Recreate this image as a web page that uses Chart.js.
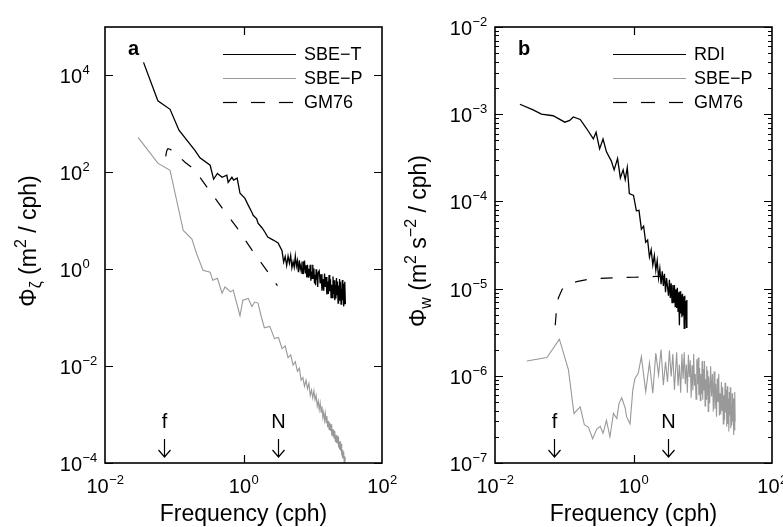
<!DOCTYPE html>
<html>
<head>
<meta charset="utf-8">
<script src="https://cdn.jsdelivr.net/npm/chart.js@4.4.1/dist/chart.umd.min.js"></script>
<style>
  html, body { margin: 0; padding: 0; background: #fff; }
  #wrap { position: relative; width: 783px; height: 527px; overflow: hidden; }
  canvas { position: absolute; top: 0; }
</style>
</head>
<body>
<div id="wrap">
  <canvas id="panelA" width="420" height="527" style="left:0"></canvas>
  <canvas id="panelB" width="392" height="527" style="left:391px"></canvas>
</div>
<script>
// ---- panel a: vertical displacement spectra (frequency in cph) ----
const freqT = [0.036, 0.058, 0.087, 0.117, 0.20, 0.235, 0.33, 0.37, 0.42, 0.49, 0.575, 0.60, 0.68,
  0.72, 0.81, 0.89, 1.05, 1.17, 1.32, 1.38, 1.55, 1.62, 1.86, 2.04, 2.24, 2.69, 3.16,
  3.6, 3.8, 4.0, 4.2, 4.4, 4.6, 4.8, 5.0, 5.2, 5.4, 5.6, 5.8, 6.0, 6.2, 6.4, 6.6, 6.8, 7.0, 7.2,
  7.4, 7.6, 7.8, 8.0, 8.2, 8.4, 8.6, 8.8, 9.0, 9.2, 9.4, 9.6, 9.8, 10.0, 10.2, 10.4, 10.6, 10.8,
  11.0, 11.2, 11.4, 11.6, 11.8, 12.0,
  12.4, 12.8, 13.2, 13.6, 14.0, 14.4, 14.8, 15.2, 15.6, 16.0, 16.4, 16.8, 17.2, 17.6, 18.0, 18.4,
  18.8, 19.2, 19.6, 20.0, 20.4, 20.8, 21.2, 21.6, 22.0, 22.4, 22.8, 23.2, 23.6, 24.0, 24.4, 24.8,
  25.2, 25.6, 26.0, 26.4, 26.8, 27.2, 27.6, 28.0, 28.4, 28.8, 29.2, 29.6];
const sbeT = [1.86e4, 3.0e3, 2.0e3, 740, 280, 200, 140, 72, 95, 79, 87, 62, 79, 69, 76, 37, 29, 21,
  15, 13, 11, 8.9, 7.1, 5.8, 4.6, 4.0, 3.5,
  2.40, 1.40, 1.82, 1.19, 1.86, 1.33, 1.91, 1.07, 1.43, 1.10, 1.86, 1.16, 1.50, 0.87, 1.53,
  0.99, 1.23, 0.82, 1.45, 1.01, 1.51, 0.82, 1.20, 0.68, 1.23, 0.69, 1.02, 0.73, 1.24, 0.58,
  0.90, 0.65, 1.23, 0.65, 1.03, 0.51, 0.77, 0.47, 1.00, 0.61, 0.84, 0.43, 0.86,
  0.93, 0.51, 0.79, 0.36, 0.63, 0.36, 0.81, 0.43, 0.69, 0.30, 0.56, 0.31, 0.76, 0.35, 0.62,
  0.26, 0.48, 0.26, 0.71, 0.31, 0.59, 0.23, 0.47, 0.25, 0.66, 0.30, 0.56, 0.20, 0.46, 0.23,
  0.63, 0.26, 0.55, 0.19, 0.39, 0.20, 0.60, 0.23, 0.50, 0.17, 0.40, 0.19, 0.55, 0.19];

const freqPa = [0.030, 0.058, 0.087, 0.135, 0.18, 0.21, 0.26, 0.33, 0.36, 0.42, 0.49, 0.54, 0.65,
  0.71, 0.89, 0.98, 1.17, 1.32, 1.45, 1.62, 1.8, 2.0, 2.4, 2.8, 3.2,
  3.6, 4.0, 4.4, 4.8, 5.2, 5.6, 6.0, 6.4, 6.8, 7.2, 7.6, 8.0, 8.4, 8.8, 9.2, 9.6,
  10.0, 10.4, 10.8, 11.2, 11.6, 12.0, 12.4, 12.8, 13.2, 13.6, 14.0, 14.4, 14.8, 15.2, 15.6, 16.0,
  16.4, 16.8, 17.2, 17.6, 18.0, 18.4, 18.8, 19.2, 19.6, 20.0, 20.4, 20.8, 21.2, 21.6, 22.0, 22.4,
  22.8, 23.2, 23.6, 24.0, 24.4, 24.8, 25.2, 25.6, 26.0, 26.4, 26.8, 27.2, 27.6, 28.0, 28.4, 28.8,
  29.2, 29.6];
const sbePa = [525, 155, 110, 6.3, 4.2, 2.1, 0.95, 0.87, 0.59, 0.65, 0.32, 0.43, 0.34, 0.37, 0.11,
  0.23, 0.25, 0.17, 0.21, 0.20,
  0.107, 0.062, 0.066, 0.037, 0.039, 0.023, 0.026, 0.015, 0.017, 0.0105,
  0.0123, 0.0078, 0.0091, 0.0051, 0.0058, 0.0038, 0.0051, 0.0034, 0.0044, 0.0025,
  0.0032, 0.0022, 0.0031, 0.0020, 0.0025, 0.0015, 0.0019, 0.00126, 0.00174, 0.00112,
  0.00148, 0.00087, 0.00112, 0.00076, 0.00105, 0.00068, 0.00093, 0.00055, 0.00074, 0.00049,
  0.00069, 0.00046, 0.00063, 0.00037, 0.00050, 0.00035, 0.00049, 0.00032, 0.00046, 0.00028,
  0.00038, 0.00026, 0.00037, 0.00025, 0.00035, 0.00021, 0.00028, 0.00019, 0.00028, 0.00018,
  0.00025, 0.000145, 0.00020, 0.000132, 0.000186, 0.000126, 0.00017, 0.000102, 0.000138, 0.000100,
  0.000129];

const freqGmA = [0.0752, 0.078, 0.081, 0.087, 0.10, 0.143, 0.188, 0.235, 0.295, 0.484, 0.794, 1.32, 2.16, 3.09];
const gm76A = [214, 280, 309, 300, 260, 162, 120, 79, 50, 19, 7.4, 2.5, 0.95, 0.46];

// ---- panel b: vertical velocity spectra ----
const freqRdi = [0.0229, 0.0355, 0.0468, 0.069, 0.102, 0.120, 0.135, 0.170, 0.209, 0.263, 0.288,
  0.324, 0.363, 0.407, 0.479, 0.525, 0.589, 0.646, 0.708, 0.759, 0.813, 0.871,
  1.0, 1.1, 1.2, 1.3, 1.4, 1.5, 1.6, 1.7, 1.8, 1.9, 2.0, 2.1, 2.2, 2.3, 2.4, 2.5, 2.6, 2.7, 2.8, 2.9, 3.0,
  3.2, 3.3, 3.4, 3.5, 3.6, 3.7, 3.8, 3.9, 4.0, 4.1, 4.2, 4.3, 4.4, 4.5, 4.6, 4.7, 4.8, 4.9, 5.0,
  5.1, 5.2, 5.3, 5.4, 5.5, 5.6, 5.7, 5.8, 5.9];
const rdi = [1.30e-3, 1.12e-3, 1.0e-3, 9.6e-4, 8.1e-4, 8.5e-4, 9.3e-4, 8.7e-4, 6.9e-4, 5.2e-4, 6.2e-4,
  4.0e-4, 5.2e-4, 3.7e-4, 2.9e-4, 2.3e-4, 3.1e-4, 1.86e-4, 2.3e-4, 1.78e-4, 2.45e-4, 1.23e-4,
  1.17e-4, 7.8e-5, 7.9e-5, 4.8e-5, 5.2e-5, 3.4e-5, 3.6e-5, 2.3e-5, 2.8e-5, 1.86e-5, 2.4e-5,
  1.62e-5, 2.1e-5, 1.32e-5, 1.70e-5, 1.12e-5, 1.58e-5, 1.07e-5, 1.48e-5, 9.1e-6, 1.32e-5,
  8.3e-6, 1.26e-5, 7.8e-6, 1.15e-5, 6.9e-6, 1.10e-5, 6.9e-6, 1.10e-5, 6.2e-6, 9.8e-6, 6.0e-6,
  1.02e-5, 5.5e-6, 9.1e-6, 3.8e-6, 9.3e-6, 5.2e-6, 8.5e-6, 4.7e-6, 8.7e-6, 5.0e-6, 8.1e-6,
  3.5e-6, 8.3e-6, 4.5e-6, 7.2e-6, 3.6e-6, 7.4e-6];

const freqPb = [0.0288, 0.0562, 0.0851, 0.115, 0.138, 0.170, 0.195, 0.224, 0.257, 0.295, 0.331,
  0.363, 0.407, 0.457, 0.513, 0.575, 0.617, 0.676, 0.759, 0.794, 0.891, 0.977, 1.05, 1.17,
  1.3, 1.5, 1.7, 1.9, 2.1, 2.3, 2.5, 2.7, 2.9, 3.1, 3.3, 3.5, 3.7, 3.9,
  4.2, 4.4, 4.6, 4.8, 5.0, 5.2, 5.4, 5.6, 5.8, 6.0, 6.2, 6.4, 6.6, 6.8, 7.0, 7.2, 7.4, 7.6, 7.8,
  8.0, 8.2, 8.4, 8.6, 8.8, 9.0, 9.2, 9.4, 9.6, 9.8, 10.0, 10.2, 10.4, 10.6, 10.8, 11.0, 11.2,
  11.4, 11.6, 11.8, 12.0, 12.2,
  12.6, 13.0, 13.4, 13.8, 14.2, 14.6, 15.0, 15.4, 15.8, 16.2, 16.6, 17.0, 17.4,
  17.8, 18.2, 18.6, 19.0, 19.4, 19.8, 20.2, 20.6, 21.0, 21.4, 21.8, 22.2, 22.6, 23.0, 23.4, 23.8,
  24.2, 24.6, 25.0, 25.4, 25.8, 26.2, 26.6, 27.0, 27.4, 27.8, 28.2, 28.6, 29.0, 29.4];
const sbePb = [1.48e-6, 1.62e-6, 2.63e-6, 1.17e-6, 3.7e-7, 4.4e-7, 2.75e-7, 2.57e-7, 1.9e-7, 2.45e-7,
  2.63e-7, 2.19e-7, 3.09e-7, 2.0e-7, 3.7e-7, 3.24e-7, 4.8e-7, 5.6e-7, 4.27e-7, 3.4e-7, 2.8e-7,
  6.9e-7, 9.3e-7, 1.07e-6,
  1.66e-6, 6.6e-7, 1.41e-6, 6.3e-7, 1.82e-6, 1.02e-6, 2.0e-6, 7.8e-7, 1.45e-6, 8.5e-7, 1.95e-6,
  9.8e-7, 1.78e-6, 6.9e-7,
  1.86e-6, 7.7e-7, 1.35e-6, 6.4e-7, 1.78e-6, 9.2e-7, 1.86e-6, 8.0e-7, 1.35e-6, 6.4e-7, 1.74e-6,
  9.7e-7, 1.51e-6, 5.6e-7, 1.32e-6, 6.8e-7, 1.78e-6, 7.7e-7, 1.05e-6, 5.4e-7, 1.55e-6, 8.0e-7,
  1.62e-6, 6.0e-7, 1.23e-6, 5.2e-7, 1.05e-6, 6.2e-7, 1.48e-6, 5.3e-7, 1.20e-6, 6.8e-7, 1.48e-6,
  4.5e-7, 9.1e-7, 5.4e-7, 1.29e-6, 6.1e-7, 1.15e-6, 3.9e-7, 9.8e-7,
  4.8e-7, 1.29e-6, 5.8e-7, 1.05e-6, 3.9e-7, 1.12e-6, 4.2e-7, 8.1e-7, 3.4e-7, 9.3e-7, 5.0e-7,
  1.05e-6, 3.5e-7, 6.3e-7, 3.6e-7, 8.5e-7, 4.0e-7, 7.4e-7, 2.8e-7, 6.0e-7, 3.1e-7, 8.3e-7,
  3.8e-7, 6.9e-7, 2.6e-7, 7.6e-7, 2.8e-7, 5.5e-7, 2.3e-7, 6.5e-7, 3.5e-7, 7.4e-7, 2.5e-7,
  4.6e-7, 2.7e-7, 6.3e-7, 3.0e-7, 5.5e-7, 2.1e-7, 4.6e-7, 2.4e-7, 6.5e-7, 3.0e-7];

const freqGmB = [0.0741, 0.0776, 0.0822, 0.0933, 0.108, 0.151, 0.234, 0.5, 1.0, 2.14, 3.16];
const gm76B = [3.8e-6, 6.0e-6, 7.8e-6, 9.8e-6, 1.10e-5, 1.20e-5, 1.29e-5, 1.33e-5, 1.35e-5, 1.38e-5, 1.38e-5];

// inertial and buoyancy frequencies marked with arrows
const fCph = 0.072;
const nCph = 3.15;

const xTickExp = [-2, 0, 2];
const yTickExpA = [-4, -2, 0, 2, 4];
const yTickExpB = [-7, -6, -5, -4, -3, -2];

const FONT = '"Liberation Sans", Arial, Helvetica, sans-serif';
const GRAY = '#999999';

function drawPow(ctx, exp, x, y, mode) {
  const e = exp < 0 ? '\u2212' + (-exp) : String(exp);
  ctx.font = '20px ' + FONT;
  const wb = ctx.measureText('10').width;
  ctx.font = '13px ' + FONT;
  const we = ctx.measureText(e).width;
  const x0 = mode === 'center' ? x - (wb + we) / 2 : x - wb;
  ctx.textAlign = 'left';
  ctx.textBaseline = 'alphabetic';
  ctx.font = '20px ' + FONT;
  ctx.fillText('10', x0, y);
  ctx.font = '13px ' + FONT;
  ctx.fillText(e, x0 + wb + 0.5, y - 9);
}

// segments: [text, fontSize, verticalShift]
function drawRich(ctx, segs, cx, y) {
  let total = 0;
  segs.forEach(s => { ctx.font = s[1] + 'px ' + FONT; total += ctx.measureText(s[0]).width; });
  let x = cx - total / 2;
  ctx.textAlign = 'left';
  ctx.textBaseline = 'alphabetic';
  segs.forEach(s => {
    ctx.font = s[1] + 'px ' + FONT;
    ctx.fillText(s[0], x, y + s[2]);
    x += ctx.measureText(s[0]).width;
  });
}

function framePlugin(p) {
  return {
    id: 'frame',
    afterDraw(chart) {
      const ctx = chart.ctx, a = chart.chartArea;
      const xs = chart.scales.x, ys = chart.scales.y;
      ctx.save();
      ctx.strokeStyle = '#000';
      ctx.fillStyle = '#000';

      // ticks
      ctx.lineWidth = 1.2;
      ctx.beginPath();
      p.yTicks.forEach(d => {
        const y = Math.round(ys.getPixelForValue(Math.pow(10, d))) + 0.5;
        ctx.moveTo(a.left, y); ctx.lineTo(a.left + 8, y);
        ctx.moveTo(a.right, y); ctx.lineTo(a.right - 8, y);
      });
      if (p.minor) {
        for (let d = p.yTicks[0]; d < p.yTicks[p.yTicks.length - 1]; d++) {
          for (let k = 2; k < 10; k++) {
            const y = Math.round(ys.getPixelForValue(k * Math.pow(10, d))) + 0.5;
            ctx.moveTo(a.left, y); ctx.lineTo(a.left + 4, y);
            ctx.moveTo(a.right, y); ctx.lineTo(a.right - 4, y);
          }
        }
      }
      const x0 = Math.round(xs.getPixelForValue(1)) + 0.5;
      ctx.moveTo(x0, a.bottom); ctx.lineTo(x0, a.bottom - 8);
      ctx.moveTo(x0, a.top); ctx.lineTo(x0, a.top + 8);
      ctx.stroke();

      // frame
      ctx.lineWidth = 1.6;
      ctx.strokeRect(a.left, a.top, a.right - a.left, a.bottom - a.top);

      // tick labels
      p.yTicks.forEach(d => drawPow(ctx, d, a.left - 23, ys.getPixelForValue(Math.pow(10, d)) + 8, 'right'));
      xTickExp.forEach(d => drawPow(ctx, d, xs.getPixelForValue(Math.pow(10, d)), a.bottom + 30, 'center'));

      // axis titles
      drawRich(ctx, [['Frequency (cph)', 23, 0]], (a.left + a.right) / 2, 521);
      ctx.save();
      ctx.translate(a.left - 69, 241);
      ctx.rotate(-Math.PI / 2);
      drawRich(ctx, p.yTitle, 0, 0);
      ctx.restore();

      // panel letter
      ctx.font = 'bold 20px ' + FONT;
      ctx.textAlign = 'left';
      ctx.fillText(p.letter, a.left + 23, 55);

      // legend
      p.legend.forEach((l, i) => {
        const y = 54 + i * 24;
        ctx.beginPath();
        ctx.strokeStyle = l[1];
        ctx.lineWidth = 1.2;
        ctx.setLineDash(l[2]);
        ctx.moveTo(a.left + 118, y + 0.5);
        ctx.lineTo(a.left + 191, y + 0.5);
        ctx.stroke();
        ctx.setLineDash([]);
        ctx.fillStyle = '#000';
        ctx.font = '18px ' + FONT;
        ctx.textBaseline = 'middle';
        ctx.fillText(l[0], a.left + 199, y + 1);
        ctx.textBaseline = 'alphabetic';
      });

      // f and N arrows
      ctx.strokeStyle = '#000';
      ctx.lineWidth = 1.2;
      [['f', fCph], ['N', nCph]].forEach(m => {
        const x = Math.round(xs.getPixelForValue(m[1])) + 0.5;
        ctx.font = '20px ' + FONT;
        ctx.textAlign = 'center';
        ctx.fillText(m[0], x, 428);
        ctx.beginPath();
        ctx.moveTo(x, 439); ctx.lineTo(x, 457);
        ctx.moveTo(x - 6, 450); ctx.lineTo(x, 457); ctx.lineTo(x + 6, 450);
        ctx.stroke();
      });
      ctx.restore();
    }
  };
}

function makeChart(id, p) {
  return new Chart(document.getElementById(id), {
    type: 'line',
    data: {
      datasets: p.series.map(s => ({
        data: s.x.map((f, i) => ({ x: f, y: s.y[i] })),
        borderColor: s.color,
        borderWidth: s.width,
        borderDash: s.dash || [],
        pointRadius: 0,
        tension: 0,
        fill: false
      }))
    },
    options: {
      responsive: false,
      animation: false,
      devicePixelRatio: 1,
      layout: { padding: p.pad },
      plugins: { legend: { display: false }, tooltip: { enabled: false }, title: { display: false } },
      scales: {
        x: { type: 'logarithmic', min: 0.01, max: 100, display: false },
        y: { type: 'logarithmic', min: p.yMin, max: p.yMax, display: false }
      }
    },
    plugins: [framePlugin(p)]
  });
}

makeChart('panelA', {
  pad: { left: 105, right: 38, top: 27, bottom: 64 },
  yMin: 1e-4, yMax: 1e5,
  yTicks: yTickExpA, minor: false, letter: 'a',
  yTitle: [['\u03A6', 23, 0], ['\u03B6', 16, 5], [' (m', 23, 0], ['2', 16, -10], [' / cph)', 23, 0]],
  legend: [['SBE\u2212T', '#000', []], ['SBE\u2212P', GRAY, []], ['GM76', '#000', [14, 14]]],
  series: [
    { x: freqT, y: sbeT, color: '#000', width: 1.3 },
    { x: freqPa, y: sbePa, color: GRAY, width: 1.1 },
    { x: freqGmA, y: gm76A, color: '#000', width: 1.2, dash: [12, 14] }
  ]
});

makeChart('panelB', {
  pad: { left: 104, right: 11, top: 27, bottom: 64 },
  yMin: 1e-7, yMax: 1e-2,
  yTicks: yTickExpB, minor: true, letter: 'b',
  yTitle: [['\u03A6', 23, 0], ['w', 16, 5], [' (m', 23, 0], ['2', 16, -10], [' s', 23, 0],
           ['\u22122', 16, -10], [' / cph)', 23, 0]],
  legend: [['RDI', '#000', []], ['SBE\u2212P', GRAY, []], ['GM76', '#000', [14, 14]]],
  series: [
    { x: freqRdi, y: rdi, color: '#000', width: 1.3 },
    { x: freqPb, y: sbePb, color: GRAY, width: 1.1 },
    { x: freqGmB, y: gm76B, color: '#000', width: 1.2, dash: [12, 14] }
  ]
});
</script>
</body>
</html>
